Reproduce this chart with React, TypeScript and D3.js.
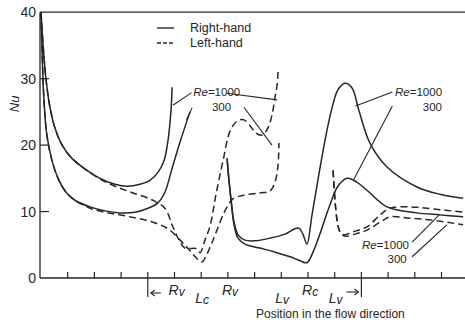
import React from "react";
import * as d3 from "d3";

// Nusselt number along the flow direction, piecewise per vortex region.
// Solid = right-hand, dashed = left-hand; two Reynolds numbers each.

// Right-hand, Re = 1000
const r1000aX = [0, 0.08, 0.19, 0.34, 0.52, 0.79, 1.16, 1.65, 2.21, 2.77, 3.22, 3.71, 4.08, 4.38, 4.61, 4.76, 4.87, 4.91];
const r1000aNu = [40, 35, 29.8, 25.6, 22.6, 20, 18, 16.4, 15, 14.1, 13.8, 14.1, 14.7, 15.9, 17.7, 20.8, 25.3, 28.7];
const r1000bX = [6.97, 7.04, 7.12, 7.23, 7.38, 7.64, 8.01, 8.58, 9.14, 9.51, 9.66, 9.81, 9.96, 10.15, 10.37, 10.64, 10.9, 11.12, 11.38, 11.65, 11.9, 12.32, 12.96, 14.08, 14.94, 15.81];
const r1000bNu = [18, 14.7, 11.7, 8.4, 6.5, 5.7, 5.6, 6.0, 6.6, 7.4, 7.5, 6.6, 5.1, 9.5, 14.7, 20.8, 25.6, 28.3, 29.3, 28.6, 25.3, 20.3, 16.7, 13.7, 12.6, 12.0];

// Right-hand, Re = 300
const r300aX = [0, 0.04, 0.11, 0.22, 0.41, 0.64, 0.94, 1.27, 1.84, 2.4, 2.96, 3.52, 4.01, 4.38, 4.64, 4.91, 5.21, 5.58];
const r300aNu = [40, 34.3, 26.8, 21.5, 17.7, 15, 12.9, 11.7, 10.7, 10.1, 9.8, 9.9, 10.5, 11.3, 12.9, 16.5, 20.5, 25];
const r300bX = [6.97, 7.04, 7.12, 7.23, 7.38, 7.64, 8.2, 8.76, 9.33, 9.7, 9.96, 10.22, 10.52, 10.82, 11.12, 11.46, 11.84, 12.21, 12.96, 14.08, 14.94, 15.81];
const r300bNu = [18, 14.7, 11.7, 8.0, 6.0, 5.1, 4.5, 3.9, 3.2, 2.6, 2.3, 4.2, 7.5, 11.0, 13.8, 15.0, 14.4, 13.2, 10.7, 9.8, 9.5, 9.2];

// Left-hand, Re = 1000
const l1000aX = [0, 0.08, 0.19, 0.34, 0.52, 0.79, 1.16, 1.65, 2.21, 2.77, 3.45, 4.19, 4.64, 4.94, 5.21, 5.39, 5.84, 5.96, 6.14, 6.33, 6.55, 6.82, 7.08, 7.34, 7.6, 7.83, 8.05, 8.28, 8.5, 8.65, 8.76, 8.84, 8.88];
const l1000aNu = [40, 35, 29.8, 25.6, 22.6, 20, 18, 16.4, 14.9, 13.8, 12.8, 11.7, 10.5, 7.7, 5.4, 4.5, 4.4, 3.8, 5.7, 7.8, 12.5, 17.7, 22.1, 23.6, 23.8, 22.9, 21.8, 21.5, 22.6, 24.5, 27.1, 29.0, 31.0];
const l1000bX = [10.94, 11.01, 11.09, 11.2, 11.35, 11.65, 12.21, 12.7, 13.07, 13.82, 14.68, 15.81];
const l1000bNu = [16.2, 11.7, 8.7, 6.9, 6.5, 6.9, 7.7, 9.5, 10.5, 10.7, 10.4, 9.9];

// Left-hand, Re = 300
const l300aX = [0, 0.04, 0.11, 0.22, 0.41, 0.64, 0.94, 1.27, 1.84, 2.4, 3.22, 4.19, 4.76, 5.21, 5.58, 5.84, 6.03, 6.18, 6.37, 6.59, 6.89, 7.19, 7.64, 8.2, 8.58, 8.76, 8.88, 8.91];
const l300aNu = [40, 34.3, 26.8, 21.5, 17.7, 15, 12.9, 11.7, 10.5, 9.9, 9.3, 8.4, 7.4, 5.7, 4.1, 2.9, 2.4, 3.3, 5.0, 7.2, 10.1, 11.9, 12.5, 12.8, 13.1, 14.4, 17.0, 20.3];
const l300bX = [10.94, 11.01, 11.09, 11.2, 11.39, 11.76, 12.21, 12.7, 13.07, 13.82, 14.68, 15.81];
const l300bNu = [16.2, 11.7, 8.7, 6.9, 6.3, 6.6, 7.2, 8.4, 9.2, 9.0, 8.7, 8.0];

// Axis ticks and section labels
const nuTicks = [0, 10, 20, 30, 40];
const positionTicks = [1, 2, 3, 4, 5, 6, 7, 8, 9, 10, 11, 12, 13, 14, 15];
const sectionMarks = [4, 12];
const sectionLabels = [
  { main: "R", sub: "v", at: 5 },
  { main: "L", sub: "c", at: 6 },
  { main: "R", sub: "v", at: 7 },
  { main: "L", sub: "v", at: 9 },
  { main: "R", sub: "c", at: 10 },
  { main: "L", sub: "v", at: 11 },
];

const W = 465;
const H = 323;
const INK = "#262626";
const FONT = "'Liberation Sans', Arial, Helvetica, sans-serif";

const x = d3.scaleLinear().domain([0, 16]).range([41, 468.2]);
const y = d3.scaleLinear().domain([0, 40]).range([278, 12.2]);

const line = d3
  .line<[number, number]>()
  .x((d) => x(d[0]))
  .y((d) => y(d[1]))
  .curve(d3.curveCatmullRom.alpha(0.5));

const zip = (xs: number[], ys: number[]): [number, number][] => xs.map((v, i) => [v, ys[i]]);

const solidSegments = [zip(r1000aX, r1000aNu), zip(r1000bX, r1000bNu), zip(r300aX, r300aNu), zip(r300bX, r300bNu)];
const dashedSegments = [zip(l1000aX, l1000aNu), zip(l1000bX, l1000bNu), zip(l300aX, l300aNu), zip(l300bX, l300bNu)];

// Re labels with their leader lines, in data units: text anchors, then leaders [from, to]
const reNotes = [
  { tx: 5.7, ty: 27.4, sx: 6.4, sy: 25.2, leaders: [[5.64, 27.9, 4.94, 26.0], [5.66, 25.6, 5.45, 23.8], [6.96, 27.8, 8.84, 26.8], [7.6, 25.7, 8.65, 20.0]] },
  { tx: 13.26, ty: 27.4, sx: 14.3, sy: 25.2, leaders: [[13.16, 28.0, 11.78, 25.9], [13.16, 25.9, 11.7, 14.7]] },
  { tx: 12.02, ty: 4.4, sx: 12.98, sy: 2.2, leaders: [[13.9, 5.4, 14.94, 9.6], [13.9, 3.2, 15.2, 8.0]] },
];

function ReLabel({ px, py }: { px: number; py: number }) {
  return (
    <text x={px} y={py} fontSize={11.5} fontFamily={FONT} fill={INK}>
      <tspan fontStyle="italic">Re</tspan>=1000
    </text>
  );
}

export default function App() {
  const x0 = x(0);
  const y0 = y(0);
  return (
    <svg width={W} height={H} style={{ position: "absolute", left: 0, top: 0, background: "#fff" }}>
      {/* frame */}
      <line x1={x0 - 1} x2={W} y1={y(40)} y2={y(40)} stroke={INK} strokeWidth={1.3} />
      <line x1={x0 - 1} x2={x0 - 1} y1={y(40)} y2={y0} stroke={INK} strokeWidth={1.3} />
      <line x1={x0 - 1} x2={W} y1={y0} y2={y0} stroke={INK} strokeWidth={1.3} />

      {/* Nu axis */}
      {nuTicks.map((t) => (
        <g key={t}>
          {t > 0 && t < 40 && <line x1={x0 - 1} x2={x0 + 8} y1={y(t)} y2={y(t)} stroke={INK} strokeWidth={1.2} />}
          <text x={x0 - 5} y={y(t) + 5} textAnchor="end" fontSize={14} fontFamily={FONT} fill={INK}>
            {t}
          </text>
        </g>
      ))}
      <text
        transform={`translate(19,${y(26.2)}) rotate(-90)`}
        textAnchor="middle"
        fontSize={13}
        fontStyle="italic"
        fontFamily={FONT}
        fill={INK}
      >
        Nu
      </text>

      {/* position axis */}
      {positionTicks.map((t) => (
        <line key={t} x1={x(t)} x2={x(t)} y1={y0} y2={y0 - 6} stroke={INK} strokeWidth={1.2} />
      ))}
      {sectionMarks.map((t) => (
        <line key={"m" + t} x1={x(t)} x2={x(t)} y1={y0} y2={y0 + 19} stroke={INK} strokeWidth={1.2} />
      ))}
      {/* arrows toward the section marks */}
      <g stroke={INK} strokeWidth={1.1} fill="none">
        <line x1={x(4) + 3} x2={x(4) + 13} y1={y0 + 15} y2={y0 + 15} />
        <polyline points={`${x(4) + 7},${y0 + 12} ${x(4) + 3},${y0 + 15} ${x(4) + 7},${y0 + 18}`} />
        <line x1={x(12) - 15} x2={x(12) - 3} y1={y0 + 14} y2={y0 + 14} />
        <polyline points={`${x(12) - 7},${y0 + 11} ${x(12) - 3},${y0 + 14} ${x(12) - 7},${y0 + 17}`} />
      </g>
      {sectionLabels.map((s, i) => (
        <text
          key={i}
          x={x(s.at) - 6}
          y={y0 + (s.main === "R" ? 17 : 25)}
          fontSize={14}
          fontStyle="italic"
          fontFamily={FONT}
          fill={INK}
        >
          {s.main}
          <tspan fontSize={12} dy={1}>
            {s.sub}
          </tspan>
        </text>
      ))}
      <text x={256} y={318} fontSize={12} fontFamily={FONT} fill={INK}>
        Position in the flow direction
      </text>

      {/* legend */}
      <line x1={157} x2={174} y1={28} y2={28} stroke={INK} strokeWidth={1.4} />
      <text x={190} y={32} fontSize={12.5} fontFamily={FONT} fill={INK}>
        Right-hand
      </text>
      <line x1={157} x2={174} y1={43} y2={43} stroke={INK} strokeWidth={1.4} strokeDasharray="4,2" />
      <text x={190} y={47} fontSize={12.5} fontFamily={FONT} fill={INK}>
        Left-hand
      </text>

      {/* curves */}
      <g fill="none" stroke={INK} strokeWidth={1.5} strokeLinejoin="round">
        {solidSegments.map((seg, i) => (
          <path key={"s" + i} d={line(seg) ?? ""} />
        ))}
        {dashedSegments.map((seg, i) => (
          <path key={"d" + i} d={line(seg) ?? ""} strokeDasharray="7,4" />
        ))}
      </g>

      {/* Re annotations */}
      {reNotes.map((n, i) => (
        <g key={"n" + i}>
          <ReLabel px={x(n.tx)} py={y(n.ty)} />
          <text x={x(n.sx)} y={y(n.sy)} fontSize={11.5} fontFamily={FONT} fill={INK}>
            300
          </text>
          {n.leaders.map((l, j) => (
            <line key={j} x1={x(l[0])} y1={y(l[1])} x2={x(l[2])} y2={y(l[3])} stroke={INK} strokeWidth={1.1} />
          ))}
        </g>
      ))}
    </svg>
  );
}
